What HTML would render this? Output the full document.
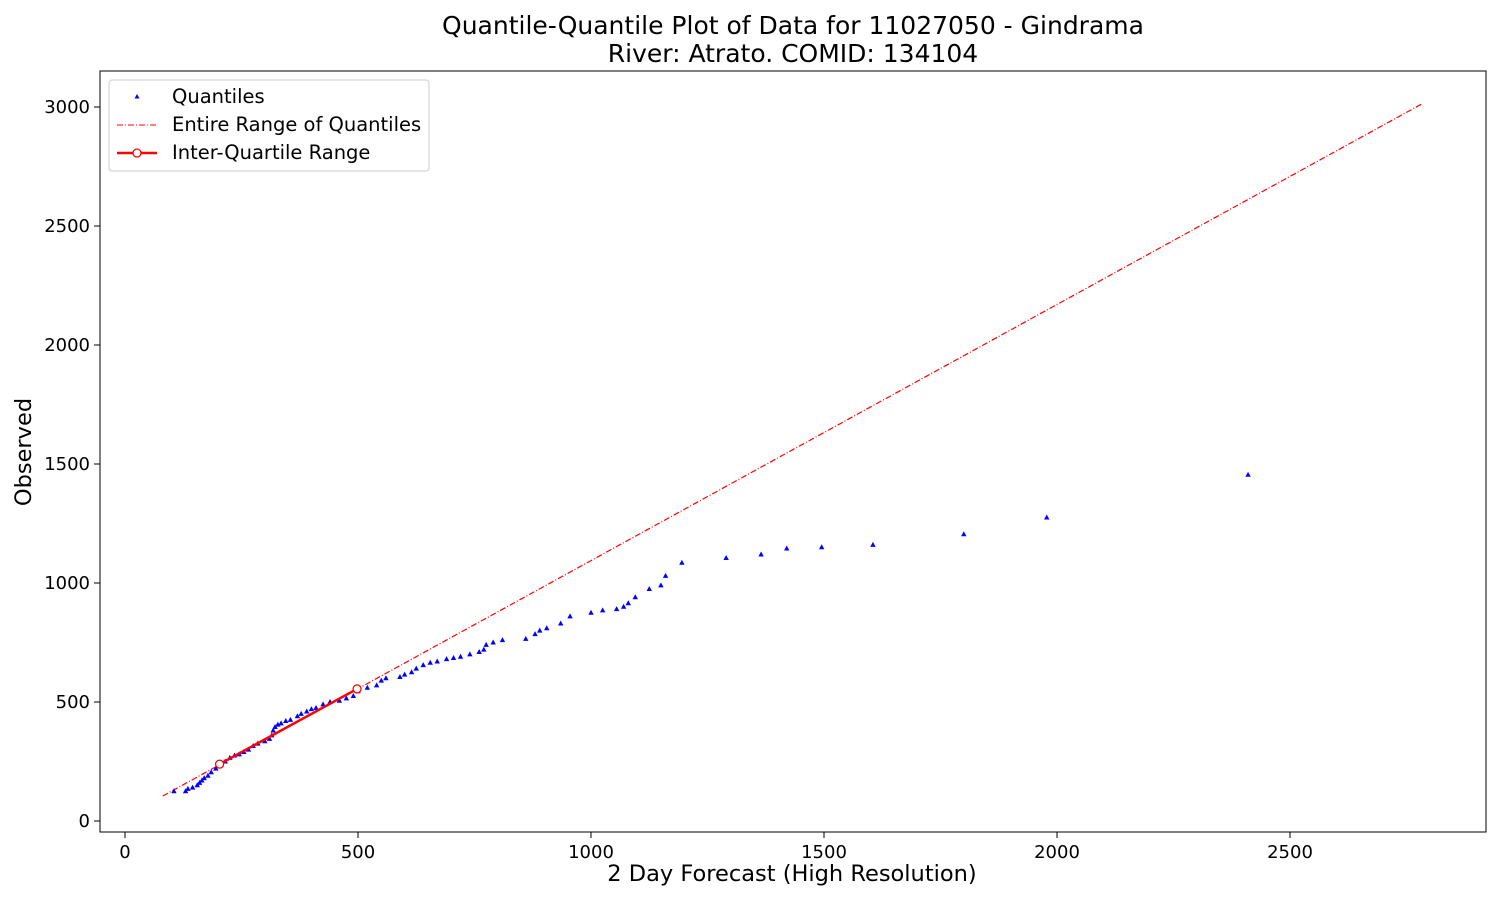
<!DOCTYPE html>
<html><head><meta charset="utf-8"><style>
body{margin:0;background:#fff;}
svg text{font-family:"DejaVu Sans","Liberation Sans",sans-serif;}
</style></head><body>
<svg id="chart" width="1500" height="900">
<text x="793" y="34" text-anchor="middle" font-size="25">Quantile-Quantile Plot of Data for 11027050 - Gindrama</text>
<text x="793" y="62" text-anchor="middle" font-size="25">River: Atrato. COMID: 134104</text>
<rect x="100" y="71" width="1386" height="761" fill="none" stroke="#000" stroke-width="1"/>
<g id="xticks"></g>
<g id="yticks"></g>
<text x="792" y="881" text-anchor="middle" font-size="22.5">2 Day Forecast (High Resolution)</text>
<text transform="translate(31,452) rotate(-90)" text-anchor="middle" font-size="22.5">Observed</text>
<g id="marks"></g>
<g>
<rect x="109" y="80" width="320" height="91" fill="#fff" stroke="#ccc" rx="3"/>
<polygon points="137,94 139.5,98.5 134.5,98.5" fill="#00f"/>
<text x="172" y="103" font-size="19.5">Quantiles</text>
<line x1="117" y1="125" x2="157" y2="125" stroke="red" stroke-width="1" stroke-dasharray="6,2,1,2"/>
<text x="172" y="131" font-size="19.5">Entire Range of Quantiles</text>
<line x1="117" y1="153" x2="157" y2="153" stroke="red" stroke-width="2.5"/>
<circle cx="137" cy="153" r="4" fill="#fff" stroke="red" stroke-width="1.3"/>
<text x="172" y="159" font-size="19.5">Inter-Quartile Range</text>
</g>
</svg>
<script>
const xTicks=[0,500,1000,1500,2000,2500];
const yTicks=[0,500,1000,1500,2000,2500,3000];
const qx=[105,130,135,145,155,160,165,170,178,185,195,205,215,225,235,245,255,265,275,285,300,310,315,318,322,328,335,345,355,370,378,390,400,410,425,440,460,475,490,500,520,540,550,560,590,600,615,625,640,655,670,690,705,720,740,760,770,775,790,810,860,880,890,905,935,955,1000,1025,1055,1070,1080,1095,1125,1150,1160,1195,1290,1365,1420,1495,1605,1800,1978,2410];
const qy=[125,125,135,140,150,160,170,180,190,205,220,235,250,265,275,280,290,300,315,325,335,345,360,380,395,405,410,420,425,440,450,460,470,475,490,500,505,515,525,545,560,570,590,600,605,615,625,640,655,665,670,680,685,690,700,710,720,740,750,760,765,785,800,810,830,860,875,885,890,900,915,940,975,990,1030,1085,1105,1120,1145,1150,1160,1205,1275,1455];
const rangeX=[81,2783];
const rangeY=[105,3013];
const iqrX=[203,498];
const iqrY=[239,555];
const sx=v=>125+v*0.466;
const sy=v=>821-v*0.238;
const NS="http://www.w3.org/2000/svg";
function mk(t,a,p){const e=document.createElementNS(NS,t);for(const k in a)e.setAttribute(k,a[k]);p.appendChild(e);return e;}
const xg=document.getElementById('xticks'),yg=document.getElementById('yticks'),mg=document.getElementById('marks');
xTicks.forEach(v=>{mk('line',{x1:sx(v),x2:sx(v),y1:832,y2:838,stroke:'#000'},xg);
const t=mk('text',{x:sx(v),y:858,'text-anchor':'middle','font-size':'18'},xg);t.textContent=v;

});
yTicks.forEach(v=>{mk('line',{x1:94,x2:100,y1:sy(v),y2:sy(v),stroke:'#000'},yg);
const t=mk('text',{x:90,y:sy(v)+6,'text-anchor':'end','font-size':'18'},yg);t.textContent=v;

});
const rl=mk('line',{x1:sx(rangeX[0]),y1:sy(rangeY[0]),x2:sx(rangeX[1]),y2:sy(rangeY[1]),stroke:'red','stroke-width':1.2,'stroke-dasharray':'6,2,1,2'},mg);


qx.forEach((v,i)=>{const x=sx(v),y=sy(qy[i]);
const p=mk('polygon',{points:`${x},${y-3} ${x+2.7},${y+2} ${x-2.7},${y+2}`,fill:'#00f'},mg);

});
const il=mk('line',{x1:sx(iqrX[0]),y1:sy(iqrY[0]),x2:sx(iqrX[1]),y2:sy(iqrY[1]),stroke:'red','stroke-width':2.5},mg);


iqrX.forEach((v,i)=>{const c=mk('circle',{cx:sx(v),cy:sy(iqrY[i]),r:4,fill:'#fff',stroke:'red','stroke-width':1.3},mg);

});
</script>
</body></html>
